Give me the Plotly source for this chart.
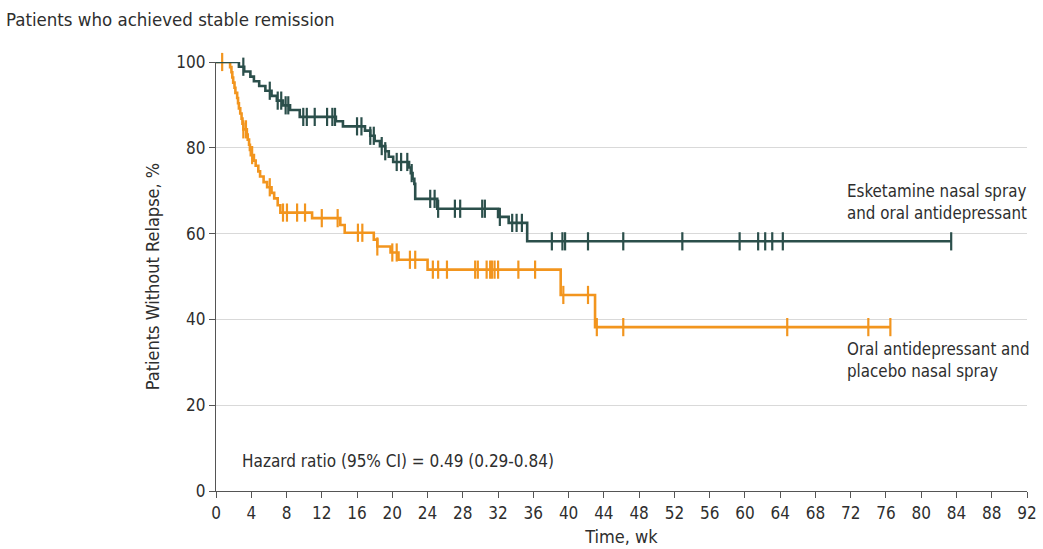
import numpy as np
import plotly.graph_objects as go

FONT = "Liberation Sans Narrow, DejaVu Sans Condensed, Arial Narrow, sans-serif"

# Esketamine nasal spray and oral antidepressant
esk_times = [0, 2.6, 3.2, 3.9, 4.3, 4.9, 5.6, 6.3, 6.9, 7.6, 8.4, 9.5, 13.6, 14.4, 16.9, 17.5,
             18.0, 18.6, 19.2, 19.6, 20.1, 21.9, 22.1, 22.3, 22.5, 22.6, 25.1, 32.0, 33.2, 35.3]
esk_surv = [100, 98.9, 97.8, 96.6, 95.5, 94.4, 93.3, 92.1, 91.0, 89.9, 88.8, 87.2, 86.2, 85.0, 84.0, 82.8,
            81.6, 80.4, 79.2, 77.9, 76.7, 75.4, 74.1, 72.8, 71.6, 68.1, 65.8, 63.9, 62.5, 58.2]
esk_end = 83.4
esk_censor = [3.1, 6.1, 7.0, 7.4, 7.9, 8.2, 9.9, 10.3, 11.2, 12.6, 13.2, 13.5, 16.0, 16.5, 17.5, 17.9,
              18.8, 19.2, 20.5, 21.0, 21.7, 22.2, 24.3, 24.8, 25.2, 27.1, 27.7, 30.2, 30.5, 32.2, 33.6,
              34.1, 34.7, 38.1, 39.3, 39.6, 42.2, 46.2, 52.9, 59.4, 61.5, 62.3, 63.1, 64.3, 83.4]

# Oral antidepressant and placebo nasal spray
pla_times = [0, 1.6, 1.75, 1.85, 1.95, 2.1, 2.2, 2.4, 2.5, 2.6, 2.75, 2.9, 3.0, 3.1, 3.5, 3.6, 3.75,
             3.85, 3.95, 4.3, 4.5, 4.8, 5.0, 5.4, 5.8, 6.3, 6.6, 7.0, 7.3, 10.9, 14.1, 14.6, 17.9,
             18.3, 19.8, 20.7, 24.0, 39.1, 43.0]
pla_surv = [100, 98.8, 97.6, 96.4, 95.2, 94.0, 92.8, 91.6, 90.4, 89.2, 88.0, 86.8, 85.6, 84.3, 83.1,
            81.9, 80.7, 79.5, 78.3, 77.0, 75.8, 74.5, 73.3, 72.0, 70.8, 69.5, 68.2, 66.6, 64.9, 63.6,
            62.0, 60.2, 58.6, 57.0, 55.6, 53.9, 51.6, 45.7, 38.2]
pla_end = 76.5
pla_censor = [0.7, 3.1, 3.4, 4.1, 6.1, 7.6, 8.05, 9.2, 10.1, 12.0, 13.8, 16.1, 16.6, 18.3, 20.0, 20.5,
              22.0, 22.6, 24.6, 25.2, 26.2, 29.4, 29.7, 30.7, 31.1, 31.3, 31.6, 32.0, 34.3, 36.2, 39.4,
              42.2, 43.2, 46.2, 64.8, 74.0, 76.5]

x_ticks = list(range(0, 93, 4))
y_ticks = [0, 20, 40, 60, 80, 100]

ESK_COLOR = "#2b4f4b"
PLA_COLOR = "#f2951e"
TXT = "#2e2e2e"


def step_at(times, surv, t):
    idx = np.searchsorted(np.array(times), t, side="right") - 1
    return surv[idx]


fig = go.Figure()
for times, surv, end, cens, color in [
    (pla_times, pla_surv, pla_end, pla_censor, PLA_COLOR),
    (esk_times, esk_surv, esk_end, esk_censor, ESK_COLOR),
]:
    fig.add_trace(go.Scatter(
        x=list(times) + [end], y=list(surv) + [surv[-1]],
        mode="lines", line=dict(color=color, width=2.6, shape="hv"),
        cliponaxis=False, showlegend=False, hoverinfo="skip"))
    fig.add_trace(go.Scatter(
        x=cens, y=[step_at(times, surv, t) for t in cens],
        mode="markers", marker=dict(symbol="line-ns", size=13, line=dict(color=color, width=2.2)),
        cliponaxis=False, showlegend=False, hoverinfo="skip"))

fig.update_layout(
    width=1043, height=549,
    margin=dict(l=216, r=16, t=62, b=58),
    paper_bgcolor="white", plot_bgcolor="white",
    font=dict(family=FONT, size=17, color=TXT),
    xaxis=dict(range=[0, 92], tickvals=x_ticks, showgrid=False, zeroline=False, automargin=False,
               showline=True, linecolor="#555555", linewidth=1.2,
               ticks="outside", ticklen=6, tickcolor="#555555",
               tickfont=dict(size=17, color=TXT),
               title=dict(text="Time, wk", standoff=8, font=dict(size=18, color=TXT))),
    yaxis=dict(range=[0, 100], tickvals=y_ticks, showgrid=True, gridcolor="#d9d9d9", gridwidth=1,
               zeroline=False, showline=True, linecolor="#555555", linewidth=1.2, automargin=False,
               ticks="outside", ticklen=6, tickcolor="#555555",
               tickfont=dict(size=17, color=TXT),
               title=dict(text="Patients Without Relapse, %", standoff=12, font=dict(size=18, color=TXT))),
    annotations=[
        dict(text="Patients who achieved stable remission", xref="paper", yref="paper",
             x=-212 / 811, y=1 + 42 / 429, xanchor="left", yanchor="middle", showarrow=False,
             font=dict(size=18.5, color=TXT)),
        dict(text="Esketamine nasal spray<br>and oral antidepressant", xref="x", yref="y",
             x=71.4, y=67.4, xanchor="left", yanchor="middle", align="left", showarrow=False,
             font=dict(size=16.8, color=TXT)),
        dict(text="Oral antidepressant and<br>placebo nasal spray", xref="x", yref="y",
             x=71.4, y=30.6, xanchor="left", yanchor="middle", align="left", showarrow=False,
             font=dict(size=16.8, color=TXT)),
        dict(text="Hazard ratio (95% CI) = 0.49 (0.29-0.84)", xref="x", yref="y",
             x=2.7, y=7.0, xanchor="left", yanchor="middle", showarrow=False,
             font=dict(size=17, color=TXT)),
    ],
)

fig.write_html("out.html")
